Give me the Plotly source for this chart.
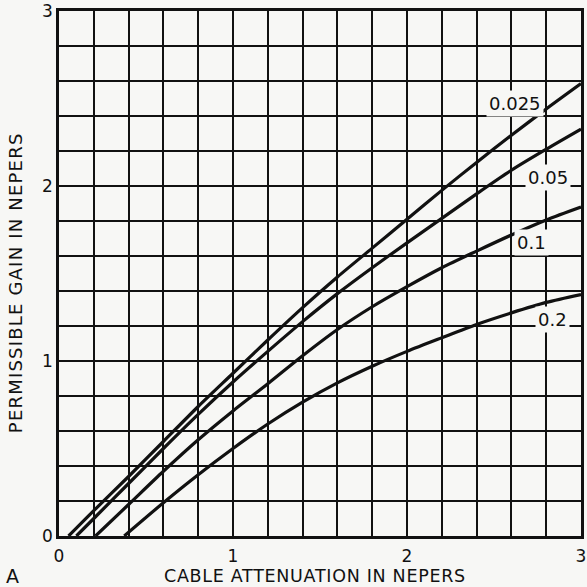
import plotly.graph_objects as go

# ---- data ----
curve_names = ["0.025", "0.05", "0.1", "0.2"]

x_0025 = [0.055, 0.2, 0.4, 0.6, 0.8, 1.0, 1.2, 1.4, 1.6, 1.8, 2.0, 2.2, 2.4, 2.6, 2.8, 3.0]
y_0025 = [0.0, 0.145, 0.34, 0.54, 0.74, 0.93, 1.12, 1.305, 1.48, 1.645, 1.81, 1.975, 2.135, 2.29, 2.44, 2.585]

x_005 = [0.10, 0.2, 0.4, 0.6, 0.8, 1.0, 1.2, 1.4, 1.6, 1.8, 2.0, 2.2, 2.4, 2.6, 2.8, 3.0]
y_005 = [0.0, 0.10, 0.30, 0.50, 0.695, 0.88, 1.055, 1.225, 1.385, 1.533, 1.675, 1.815, 1.955, 2.09, 2.21, 2.325]

x_01 = [0.21, 0.4, 0.6, 0.8, 1.0, 1.2, 1.4, 1.6, 1.8, 2.0, 2.2, 2.4, 2.6, 2.8, 3.0]
y_01 = [0.0, 0.18, 0.37, 0.55, 0.715, 0.87, 1.03, 1.18, 1.31, 1.425, 1.533, 1.628, 1.72, 1.806, 1.88]

x_02 = [0.375, 0.6, 0.8, 1.0, 1.2, 1.4, 1.6, 1.8, 2.0, 2.2, 2.4, 2.6, 2.8, 3.0]
y_02 = [0.0, 0.19, 0.35, 0.50, 0.64, 0.765, 0.875, 0.97, 1.055, 1.133, 1.209, 1.275, 1.335, 1.38]

label_x = [2.62, 2.81, 2.715, 2.835]
label_y = [2.47, 2.05, 1.675, 1.235]

grid_vals = [round(i * 0.2, 1) for i in range(16)]
tick_text = [str(int(v)) if abs(v - round(v)) < 1e-9 else "" for v in grid_vals]

x_title = "CABLE ATTENUATION IN NEPERS"
y_title = "PERMISSIBLE GAIN IN NEPERS"
panel_letter = "A"

BG = "#f7f7f5"
INK = "#111111"
FONT = "DejaVu Sans, Liberation Sans, sans-serif"

fig = go.Figure()
for xs, ys, name in [(x_0025, y_0025, curve_names[0]), (x_005, y_005, curve_names[1]),
                     (x_01, y_01, curve_names[2]), (x_02, y_02, curve_names[3])]:
    fig.add_trace(go.Scatter(x=xs, y=ys, mode="lines", name=name,
                             line=dict(color=INK, width=3.2, shape="spline", smoothing=0.8),
                             showlegend=False, hoverinfo="skip"))

for name, lx, ly in zip(curve_names, label_x, label_y):
    fig.add_annotation(x=lx, y=ly, xref="x", yref="y", text=name, showarrow=False,
                       font=dict(family=FONT, size=18, color=INK),
                       bgcolor=BG, borderpad=2)

axis_common = dict(
    tickmode="array", tickvals=grid_vals, ticktext=tick_text,
    showgrid=True, gridcolor=INK, gridwidth=1.8,
    zeroline=False, showline=True, linecolor=INK, linewidth=2.5, mirror=True,
    ticks="", tickfont=dict(family=FONT, size=17, color=INK),
    ticklabeloverflow="allow",
)

fig.update_xaxes(range=[0, 3], ticklabelstandoff=3, **axis_common)
fig.update_yaxes(range=[0, 3], ticklabelstandoff=0, **axis_common)

fig.add_annotation(x=0.49, y=-0.077, xref="paper", yref="paper",
                   text='<span style="letter-spacing:0.7px">' + x_title + '</span>',
                   showarrow=False, xanchor="center", yanchor="middle",
                   font=dict(family=FONT, size=17.5, color=INK))
fig.add_annotation(x=-0.082, y=0.482, xref="paper", yref="paper",
                   text='<span style="letter-spacing:1.2px">' + y_title + '</span>',
                   showarrow=False, textangle=-90, xanchor="center", yanchor="middle",
                   font=dict(family=FONT, size=18, color=INK))
fig.add_annotation(x=-0.09, y=-0.076, xref="paper", yref="paper", text=panel_letter,
                   showarrow=False, xanchor="center", yanchor="middle",
                   font=dict(family=FONT, size=19, color=INK))

fig.update_layout(
    width=587, height=587,
    margin=dict(l=59, r=1, t=10, b=51),
    paper_bgcolor=BG, plot_bgcolor=BG,
    showlegend=False,
)

fig.write_html("out.html", config={"displayModeBar": False},
               post_script="document.body.style.margin='0';document.body.style.overflow='hidden';")
